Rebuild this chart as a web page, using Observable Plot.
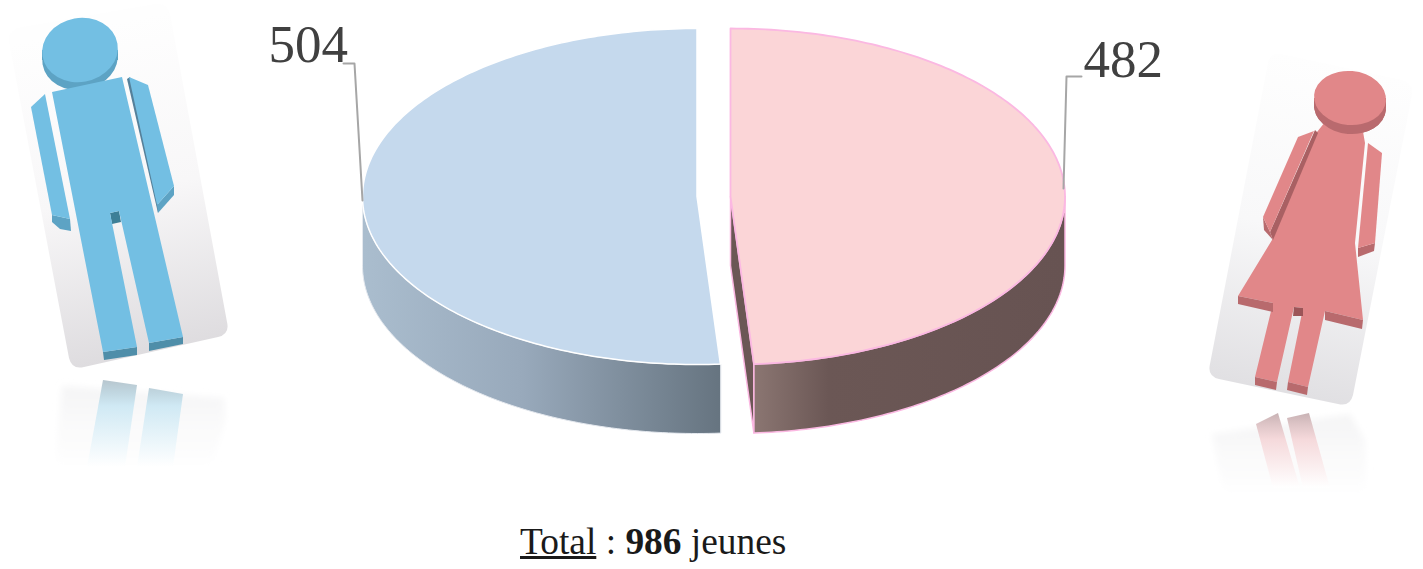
<!DOCTYPE html>
<html lang="fr">
<head>
<meta charset="utf-8">
<script src="https://cdn.jsdelivr.net/npm/d3@7"></script>
<script src="https://cdn.jsdelivr.net/npm/@observablehq/plot@0.6"></script>
<style>
html,body{margin:0;padding:0;background:#fff;overflow:hidden}
#chart svg{display:block}
#caption{height:59px;width:1423px;box-sizing:border-box;padding-left:520px;padding-top:6px;font:37.4px/52px "Liberation Serif",serif;color:#1a1a1a;white-space:pre}
#caption b{font-weight:700}
</style>
</head>
<body>
<div id="chart"></div>
<div id="caption"><u>Total</u> : <b>986</b> jeunes</div>
<script>
// ---- data ----
const categories = ["Garçons", "Filles"];
const counts = [504, 482];
const labelX = [268, 1083];
const labelY = [61, 76];
const leaderBoys = [[343, 63], [354, 63], [362, 200]];
const leaderGirls = [[1081, 76], [1066, 76], [1063, 188]];

// ---- pie geometry, all derived from counts ----
const total = d3.sum(counts);
const rx = 334.5, ry = 168, cy = 196, depth = 69;
const cxBoys = 696.5, cxGirls = 730;
const girlsEnd = counts[1] / total * 360;
const rim = (cx, a, dy = 0) => {
  const r = a * Math.PI / 180;
  return [cx + rx * Math.sin(r), cy - ry * Math.cos(r) + dy];
};
const arc = (cx, a0, a1, dy = 0) => {
  const n = Math.ceil(Math.abs(a1 - a0)), pts = [];
  for (let i = 0; i <= n; ++i) pts.push(rim(cx, a0 + (a1 - a0) * i / n, dy));
  return pts;
};
const topBoys = [[cxBoys, cy], ...arc(cxBoys, girlsEnd, 360)];
const topGirls = [[cxGirls, cy], ...arc(cxGirls, 0, girlsEnd)];
const sideBoys = [...arc(cxBoys, girlsEnd, 270), ...arc(cxBoys, 270, girlsEnd, depth)];
const sideGirls = [...arc(cxGirls, 90, girlsEnd), ...arc(cxGirls, girlsEnd, 90, depth)];
const innerGirls = [[cxGirls, cy], [cxGirls, cy + depth], rim(cxGirls, girlsEnd, depth), rim(cxGirls, girlsEnd)];

const shape = (pts, fill, stroke, strokeWidth) =>
  Plot.line(pts, {x: d => d[0], y: d => d[1], curve: "linear-closed", fill, stroke, strokeWidth});
const leader = pts =>
  Plot.line(pts, {x: d => d[0], y: d => d[1], stroke: "#a6a6a6", strokeWidth: 2});

// ---- decoration: gradients and the two pictograms ----
const pictograms = `
<defs>
  <linearGradient id="gBoys" x1="0" x2="1" y1="0" y2="0">
    <stop offset="0" stop-color="#aabdce"/><stop offset=".45" stop-color="#98a9bb"/><stop offset="1" stop-color="#667480"/>
  </linearGradient>
  <linearGradient id="gGirls" x1="0" x2="1" y1="0" y2="0">
    <stop offset="0" stop-color="#8b7672"/><stop offset=".24" stop-color="#6b5755"/><stop offset="1" stop-color="#675352"/>
  </linearGradient>
  <linearGradient id="cardM" gradientUnits="userSpaceOnUse" x1="80" y1="30" x2="150" y2="360">
    <stop offset="0" stop-color="#fefefe"/><stop offset=".5" stop-color="#f8f7f8"/><stop offset="1" stop-color="#dddbde"/>
  </linearGradient>
  <linearGradient id="cardF" gradientUnits="userSpaceOnUse" x1="1360" y1="70" x2="1290" y2="400">
    <stop offset="0" stop-color="#fefefe"/><stop offset=".5" stop-color="#f8f8f9"/><stop offset="1" stop-color="#e0dfe2"/>
  </linearGradient>
  <linearGradient id="fadeCardM" gradientUnits="userSpaceOnUse" x1="0" y1="375" x2="0" y2="470">
    <stop offset="0" stop-color="#f4f4f5"/><stop offset="1" stop-color="#ffffff"/>
  </linearGradient>
  <linearGradient id="fadeCardF" gradientUnits="userSpaceOnUse" x1="0" y1="408" x2="0" y2="497">
    <stop offset="0" stop-color="#f4f4f5"/><stop offset="1" stop-color="#ffffff"/>
  </linearGradient>
  <linearGradient id="fadeLegM" gradientUnits="userSpaceOnUse" x1="0" y1="380" x2="0" y2="467">
    <stop offset="0" stop-color="#b7c6ce"/><stop offset=".14" stop-color="#c0d6e0"/><stop offset=".3" stop-color="#d0e9f4"/><stop offset="1" stop-color="#ffffff"/>
  </linearGradient>
  <linearGradient id="fadeLegF" gradientUnits="userSpaceOnUse" x1="0" y1="413" x2="0" y2="488">
    <stop offset="0" stop-color="#c8b2b4"/><stop offset=".16" stop-color="#dfc6c8"/><stop offset=".35" stop-color="#f5d9db"/><stop offset="1" stop-color="#ffffff"/>
  </linearGradient>
  <filter id="soft" x="-10%" y="-10%" width="120%" height="120%"><feGaussianBlur stdDeviation="0.6"/></filter>
  <filter id="softer" x="-10%" y="-10%" width="120%" height="120%"><feGaussianBlur stdDeviation="3"/></filter>
</defs>
<g filter="url(#softer)">
  <polygon points="62,386 224,398 225,420 212,468 55,468" fill="url(#fadeCardM)"/>
  <polygon points="1212,434 1350,414 1365,440 1366,497 1224,497" fill="url(#fadeCardF)"/>
</g>
<g filter="url(#soft)">
  <polygon points="103,380 137,385 125,467 87,467" fill="url(#fadeLegM)"/>
  <polygon points="149,388 183,394 173,467 137,467" fill="url(#fadeLegM)"/>
  <polygon points="1256,424 1278,413 1300,488 1273,488" fill="url(#fadeLegF)"/>
  <polygon points="1287,418 1309,413 1330,488 1303,488" fill="url(#fadeLegF)"/>
</g>
<path d="M22,27 L155,4 Q167,2 170,14 L227,322 Q230,334 218,337 L84,367 Q72,370 69,358 L9,42 Q7,30 22,27Z" fill="url(#cardM)"/>
<path d="M1281,54 L1402,80 Q1414,83 1412,95 L1353,395 Q1350,407 1338,404 L1219,379 Q1207,376 1210,364 L1268,63 Q1270,52 1281,54Z" fill="url(#cardF)"/>
<g filter="url(#soft)">
  <!-- man -->
  <ellipse cx="80" cy="58" rx="38" ry="32" transform="rotate(-10 80 58)" fill="#5da3c4"/>
  <polygon points="42,50 118,50 118,60 42,60" fill="#5da3c4"/>
  <ellipse cx="80" cy="50" rx="38" ry="32" transform="rotate(-10 80 50)" fill="#73bfe3"/>
  <polygon points="110,213 119,211 121,222 112,224" fill="#3e7f97"/>
  <polygon points="103,352 137,347 137,355 104,360" fill="#4f8ea9"/>
  <polygon points="149,343 183,337 183,344 149,351" fill="#4f8ea9"/>
  <polygon points="52,92 122,77 183,337 149,343 119,211 110,213 137,347 103,352" fill="#73bfe3"/>
  <polygon points="52,215 70,219 71,231 60,229 52,222" fill="#5da3c4"/>
  <polygon points="31,107 45,94 70,219 52,215" fill="#73bfe3"/>
  <polygon points="127,79 130,77 158,205 158,213" fill="#55809a"/>
  <polygon points="157,205 174,186 174,195 158,213" fill="#5da3c4"/>
  <polygon points="129,77 148,85 174,186 157,205" fill="#73bfe3"/>
  <!-- woman -->
  <ellipse cx="1350" cy="107" rx="36" ry="27" transform="rotate(5 1350 107)" fill="#b96b6e"/>
  <polygon points="1314,98 1386,98 1386,108 1314,108" fill="#b96b6e"/>
  <polygon points="1325,122 1362,126 1365,143 1355,243 1363,320 1325,311 1308,387 1288,382 1303,308 1294,307 1277,382 1255,377 1273,303 1238,296 1272,240 1317,132" fill="#e18789"/>
  <ellipse cx="1350" cy="107" rx="36" ry="27" transform="rotate(5 1350 107)" fill="#b96b6e"/>
  <ellipse cx="1350" cy="98" rx="36" ry="27" transform="rotate(5 1350 98)" fill="#e18789"/>
  <polygon points="1238,296 1273,303 1273,312 1238,304" fill="#b86a6d"/>
  <polygon points="1325,311 1363,320 1362,329 1325,320" fill="#b86a6d"/>
  <polygon points="1294,307 1303,308 1303,316 1293,316" fill="#9c5558"/>
  <polygon points="1255,377 1277,382 1276,390 1255,385" fill="#b86a6d"/>
  <polygon points="1288,382 1308,387 1307,395 1287,390" fill="#b86a6d"/>
  <polygon points="1315,130 1318,133 1273,240 1270,232" fill="#a96063"/>
  <polygon points="1263,217 1270,232 1273,240 1264,230" fill="#b86a6d"/>
  <polygon points="1298,137 1314,131 1270,232 1263,217" fill="#e18789"/>
  <polygon points="1358,248 1375,243 1374,251 1358,257" fill="#b86a6d"/>
  <polygon points="1368,143 1382,153 1375,243 1358,248" fill="#e18789"/>
</g>`;
const decoration = () => {
  const g = document.createElementNS("http://www.w3.org/2000/svg", "g");
  g.innerHTML = pictograms;
  return g;
};

const plot = Plot.plot({
  width: 1423,
  height: 510,
  margin: 0,
  style: {maxWidth: "none", background: "#fff"},
  x: {domain: [0, 1423], range: [0, 1423], axis: null},
  y: {domain: [510, 0], range: [510, 0], axis: null},
  marks: [
    decoration,
    shape(sideBoys, "url(#gBoys)", "#e4e8ee", 1),
    shape(innerGirls, "#6b5755", "#fbb8e2", 1.5),
    shape(sideGirls, "url(#gGirls)", "#fbb8e2", 1.5),
    shape(topBoys, "#c5d9ed", "#ffffff", 1.5),
    shape(topGirls, "#fbd5d7", "#fbb8e2", 1.8),
    leader(leaderBoys),
    leader(leaderGirls),
    Plot.text(categories, {
      x: (d, i) => labelX[i],
      y: (d, i) => labelY[i],
      text: (d, i) => String(counts[i]),
      textAnchor: "start",
      lineAnchor: "bottom",
      fontFamily: "Liberation Serif",
      fontSize: 53,
      fill: "#404040"
    })
  ]
});
document.getElementById("chart").append(plot);
</script>
</body>
</html>
